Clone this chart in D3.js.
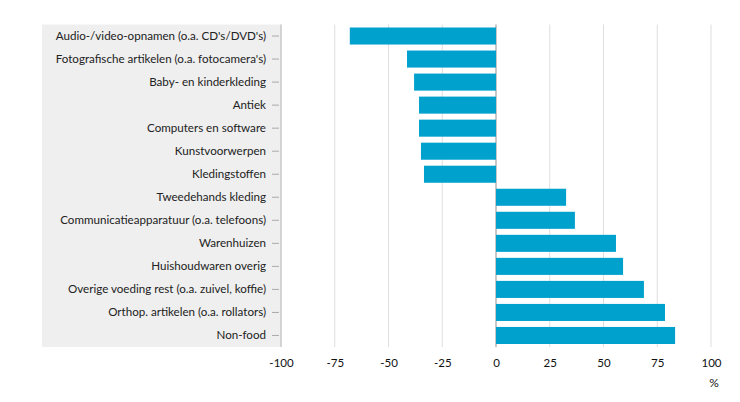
<!DOCTYPE html>
<html><head><meta charset="utf-8">
<script src="https://cdn.jsdelivr.net/npm/d3@7"></script>
<style>body{margin:0;background:#fff}svg{display:block}text{font-family:Lato,"Open Sans",sans-serif}</style>
</head><body><svg id="c" width="740" height="402"></svg>
<script>
const categories = ["Audio-/video-opnamen (o.a. CD's/DVD's)","Fotografische artikelen (o.a. fotocamera's)","Baby- en kinderkleding","Antiek","Computers en software","Kunstvoorwerpen","Kledingstoffen","Tweedehands kleding","Communicatieapparatuur (o.a. telefoons)","Warenhuizen","Huishoudwaren overig","Overige voeding rest (o.a. zuivel, koffie)","Orthop. artikelen (o.a. rollators)","Non-food"];
const values = [-68,-41.4,-38.1,-35.8,-35.8,-34.9,-33.5,32.6,36.7,55.8,59.1,68.8,78.6,83.3];
const xTicks = [-100,-75,-50,-25,0,25,50,75,100];
const unit = "%";

const svg = d3.select("#c");
const x = d3.scaleLinear().domain([-100,100]).range([281,711]);
const plotTop = 24.5, plotBottom = 347;
const y = d3.scaleBand().domain(categories).range([plotTop,plotBottom]).paddingInner(0.26).paddingOuter(0.13);

// label panel
svg.append("rect").attr("x",42).attr("y",plotTop).attr("width",x(-100)-42).attr("height",plotBottom-plotTop).attr("fill","#efefef");

// gridlines
svg.append("g").selectAll("line").data(xTicks.filter(d=>d!==0 && d!==-100)).join("line")
  .attr("x1",d=>x(d)).attr("x2",d=>x(d)).attr("y1",plotTop).attr("y2",plotBottom)
  .attr("stroke","#dedede").attr("stroke-width",1);
// zero line
svg.append("line").attr("x1",x(0)).attr("x2",x(0)).attr("y1",plotTop).attr("y2",plotBottom)
  .attr("stroke","#c8c8c8").attr("stroke-width",2);

// bars
svg.append("g").selectAll("rect").data(values).join("rect")
  .attr("x",(d)=>x(Math.min(0,d))).attr("width",d=>Math.abs(x(d)-x(0)))
  .attr("y",(d,i)=>y(categories[i])).attr("height",y.bandwidth())
  .attr("fill","#00a1cd");

// y axis
const ya = svg.append("g").attr("transform",`translate(${x(-100)},0)`)
  .call(d3.axisLeft(y).tickSize(7).tickPadding(6));
ya.select(".domain").attr("stroke","#c8c8c8").attr("stroke-width",1.5).attr("d",`M0,${plotTop}V${plotBottom}`);
ya.selectAll(".tick line").attr("stroke","#aaa").attr("x1",-2).attr("x2",-9);
ya.selectAll(".tick text").attr("x",-15).attr("font-size",11.6).attr("fill","#222").style("font-family","Lato,sans-serif");

// x axis
const xa = svg.append("g").attr("transform",`translate(0,${plotBottom})`)
  .call(d3.axisBottom(x).tickValues(xTicks).tickFormat(d=>String(d)).tickSize(0).tickPadding(12));
xa.select(".domain").remove();
xa.selectAll(".tick text").attr("font-size",11.5).attr("fill","#111").style("font-family","Lato,sans-serif");

svg.append("text").attr("x",714).attr("y",387).attr("text-anchor","middle")
  .attr("font-size",12).attr("fill","#111").text(unit);
</script></body></html>
